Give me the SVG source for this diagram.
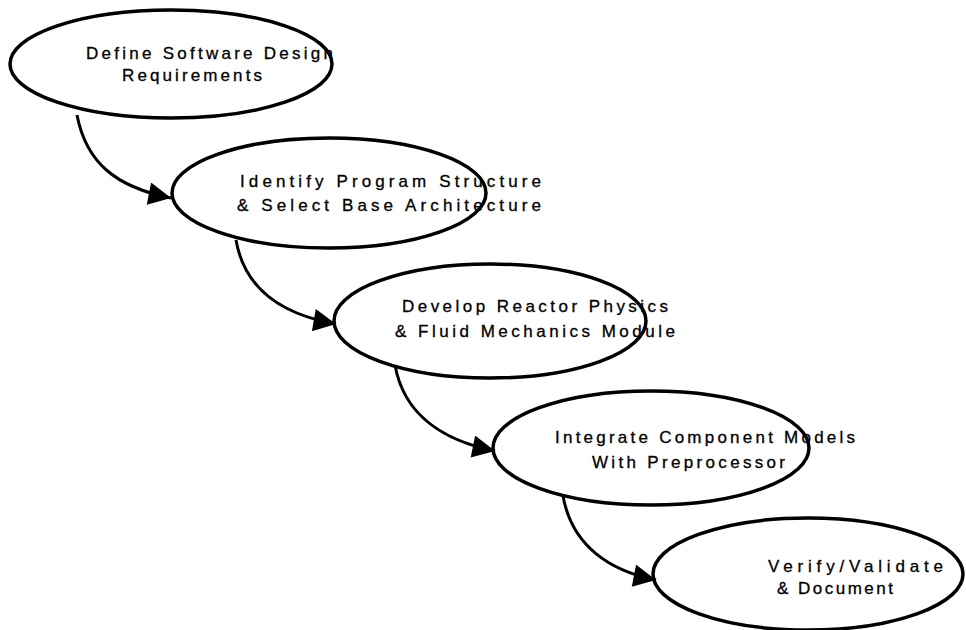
<svg xmlns="http://www.w3.org/2000/svg" width="966" height="630" viewBox="0 0 966 630">
<defs>
<style>
.n{fill:none;stroke:#000;stroke-width:3.5}
.t{font-family:"Liberation Sans",Arial,sans-serif;font-size:17px;fill:#000;stroke:#000;stroke-width:0.3}
.c{fill:none;stroke:#000;stroke-width:3}
</style>
<marker id="ah" viewBox="0 0 10 10" refX="10" refY="5" markerWidth="8" markerHeight="7.5" markerUnits="strokeWidth" orient="auto">
<path d="M0,0 L10,5 L0,10 Z" fill="#000"/>
</marker>
</defs>
<rect width="966" height="630" fill="#fff"/>
<g id="connectors">
<path class="c" d="M77,115 C86,162 115,187 171,198" marker-end="url(#ah)"/>
<path class="c" d="M236,240 C245,292 285,315 336,324" marker-end="url(#ah)"/>
<path class="c" d="M395,365 C404,416 445,441 495,451" marker-end="url(#ah)"/>
<path class="c" d="M563,496 C572,546 610,571 656,580" marker-end="url(#ah)"/>
</g>
<g id="n1">
<ellipse class="n" cx="171" cy="64" rx="161" ry="54"/>
<text class="t" x="86" y="59" textLength="247" lengthAdjust="spacing">Define Software Design</text>
<text class="t" x="122" y="81" textLength="140" lengthAdjust="spacing">Requirements</text>
</g>
<g id="n2">
<ellipse class="n" cx="329" cy="193" rx="157" ry="55"/>
<text class="t" x="240" y="187" textLength="301" lengthAdjust="spacing">Identify Program Structure</text>
<text class="t" x="237" y="211" textLength="304" lengthAdjust="spacing">&amp; Select Base Architecture</text>
</g>
<g id="n3">
<ellipse class="n" cx="490" cy="321" rx="156" ry="57"/>
<text class="t" x="402" y="312" textLength="266" lengthAdjust="spacing">Develop Reactor Physics</text>
<text class="t" x="395" y="337" textLength="280" lengthAdjust="spacing">&amp; Fluid Mechanics Module</text>
</g>
<g id="n4">
<ellipse class="n" cx="651" cy="448" rx="158" ry="57"/>
<text class="t" x="555" y="443" textLength="300" lengthAdjust="spacing">Integrate Component Models</text>
<text class="t" x="592" y="468" textLength="193" lengthAdjust="spacing">With Preprocessor</text>
</g>
<g id="n5">
<ellipse class="n" cx="808" cy="574" rx="155" ry="56"/>
<text class="t" x="768" y="572" textLength="175" lengthAdjust="spacing">Verify/Validate</text>
<text class="t" x="777" y="594" textLength="116" lengthAdjust="spacing">&amp; Document</text>
</g>
</svg>
